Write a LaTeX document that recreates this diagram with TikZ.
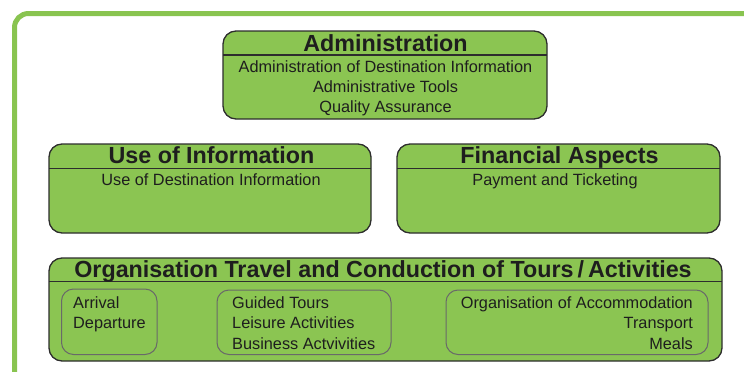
\documentclass[tikz,border=0pt]{standalone}
\usepackage{fontspec}
\setmainfont{Liberation Sans}
\begin{document}
\definecolor{leaf}{RGB}{139,197,82}
\definecolor{frame}{RGB}{137,196,80}
\definecolor{edge}{RGB}{45,45,45}
\definecolor{ink}{RGB}{30,30,30}
\definecolor{subedge}{RGB}{105,105,105}
\begin{tikzpicture}[x=1pt,y=-1pt,
  panel/.style={draw=edge,fill=leaf,line width=1.3pt,rounded corners=13pt},
  subpanel/.style={draw=subedge,line width=1pt,rounded corners=12pt},
  divider/.style={draw=edge,line width=1.2pt},
  heading/.style={font=\fontsize{23.3}{26}\selectfont\bfseries,text=ink,inner sep=0pt,anchor=base},
  entry/.style={font=\fontsize{16.3}{20}\selectfont,text=ink,inner sep=0pt,anchor=base},
  entryL/.style={entry,anchor=base west},
  entryR/.style={entry,anchor=base east}
]
\useasboundingbox (0,0) rectangle (744,372);
\begin{scope}
\clip (0,0) rectangle (744,372);
% outer frame
\draw[frame,line width=5pt,rounded corners=14pt] (14.5,13.5) rectangle (780,384);
\end{scope}

% Administration
\draw[panel] (223,31) rectangle (547,119);
\draw[divider] (223,55) -- (547,55);
\node[heading] (admT) at (385.5,51.7) {Administration};
\node[entry] (adm1) at (385.5,72.7) {Administration of Destination Information};
\node[entry] (adm2) at (385.5,92.4) {Administrative Tools};
\node[entry] (adm3) at (385.5,112) {Quality Assurance};

% Use of Information
\draw[panel] (49,144) rectangle (371,233);
\draw[divider] (49,168.5) -- (371,168.5);
\node[heading] (useT) at (211.5,163.3) {Use of Information};
\node[entry] (use1) at (211,185) {Use of Destination Information};

% Financial Aspects
\draw[panel] (397,144) rectangle (720,233);
\draw[divider] (397,168.5) -- (720,168.5);
\node[heading] (finT) at (559.5,163.3) {Financial Aspects};
\node[entry] (fin1) at (555,185) {Payment and Ticketing};

% Organisation of travel and tours
\draw[panel] (49,258) rectangle (722,361);
\draw[divider] (49,281.3) -- (722,281.3);
\node[heading] (orgT) at (383,277.3) {Organisation Travel and Conduction of Tours\hspace{4pt}/\hspace{4pt}Activities};

\draw[subpanel] (61.5,289) rectangle (157,354.5);
\node[entryL] (arr1) at (73,308) {Arrival};
\node[entryL] (arr2) at (73,328.7) {Departure};

\draw[subpanel] (217,290) rectangle (391,354.5);
\node[entryL] (tour1) at (232,308) {Guided Tours};
\node[entryL] (tour2) at (232,328.5) {Leisure Activities};
\node[entryL] (tour3) at (232,349) {Business Actvivities};

\draw[subpanel] (446,290) rectangle (708,354.5);
\node[entryR] (acc1) at (693,308) {Organisation of Accommodation};
\node[entryR] (acc2) at (693,328.5) {Transport};
\node[entryR] (acc3) at (693,349) {Meals};
\end{tikzpicture}
\end{document}
